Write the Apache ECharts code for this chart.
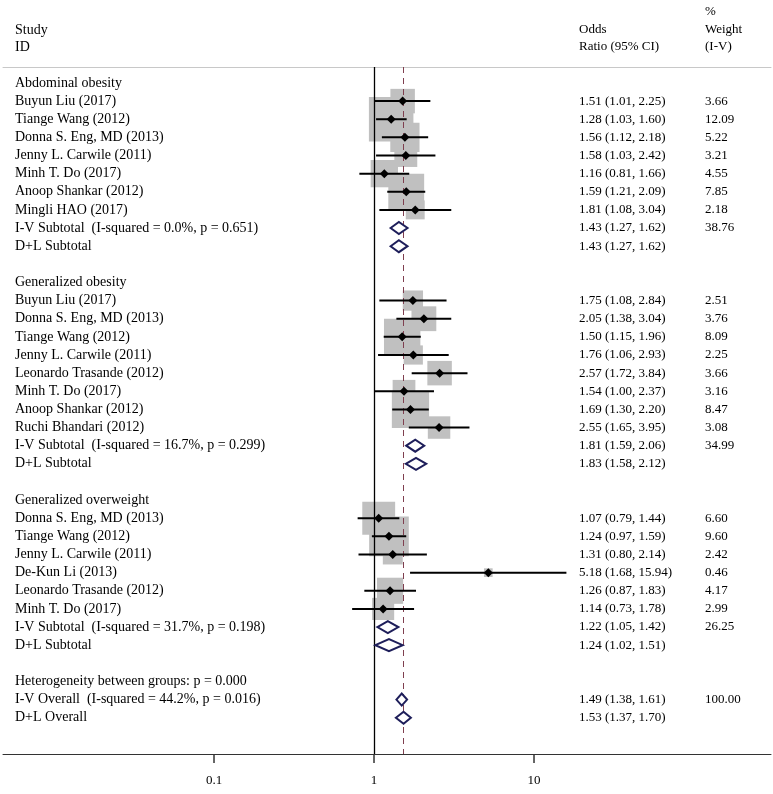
<!DOCTYPE html>
<html><head><meta charset="utf-8">
<script src="https://cdn.jsdelivr.net/npm/echarts@6/dist/echarts.min.js"></script>
<style>html,body{margin:0;padding:0;background:#fff}#c{width:773px;height:794px}</style>
</head><body><div id="c"></div>
<script>
// ---------- DATA ----------
const groupNames = ["Abdominal obesity", "Generalized obesity", "Generalized overweight"];
const studyGroup = [0,0,0,0,0,0,0, 1,1,1,1,1,1,1,1, 2,2,2,2,2,2];
const studyNames = [
  "Buyun Liu (2017)", "Tiange Wang (2012)", "Donna S. Eng, MD (2013)", "Jenny L. Carwile (2011)",
  "Minh T. Do (2017)", "Anoop Shankar (2012)", "Mingli HAO (2017)",
  "Buyun Liu (2017)", "Donna S. Eng, MD (2013)", "Tiange Wang (2012)", "Jenny L. Carwile (2011)",
  "Leonardo Trasande (2012)", "Minh T. Do (2017)", "Anoop Shankar (2012)", "Ruchi Bhandari (2012)",
  "Donna S. Eng, MD (2013)", "Tiange Wang (2012)", "Jenny L. Carwile (2011)", "De-Kun Li (2013)",
  "Leonardo Trasande (2012)", "Minh T. Do (2017)"
];
const studyOR = [1.51,1.28,1.56,1.58,1.16,1.59,1.81, 1.75,2.05,1.50,1.76,2.57,1.54,1.69,2.55, 1.07,1.24,1.31,5.18,1.26,1.14];
const studyLo = [1.01,1.03,1.12,1.03,0.81,1.21,1.08, 1.08,1.38,1.15,1.06,1.72,1.00,1.30,1.65, 0.79,0.97,0.80,1.68,0.87,0.73];
const studyHi = [2.25,1.60,2.18,2.42,1.66,2.09,3.04, 2.84,3.04,1.96,2.93,3.84,2.37,2.20,3.95, 1.44,1.59,2.14,15.94,1.83,1.78];
const studyWeight = [3.66,12.09,5.22,3.21,4.55,7.85,2.18, 2.51,3.76,8.09,2.25,3.66,3.16,8.47,3.08, 6.60,9.60,2.42,0.46,4.17,2.99];

const ivSubLabels = [
  "I-V Subtotal  (I-squared = 0.0%, p = 0.651)",
  "I-V Subtotal  (I-squared = 16.7%, p = 0.299)",
  "I-V Subtotal  (I-squared = 31.7%, p = 0.198)"
];
const ivSubOR = [1.43, 1.81, 1.22];
const ivSubLo = [1.27, 1.59, 1.05];
const ivSubHi = [1.62, 2.06, 1.42];
const ivSubWeight = [38.76, 34.99, 26.25];
const dlSubLabel = "D+L Subtotal";
const dlSubOR = [1.43, 1.83, 1.24];
const dlSubLo = [1.27, 1.58, 1.02];
const dlSubHi = [1.62, 2.12, 1.51];

const hetLabel = "Heterogeneity between groups: p = 0.000";
const overallLabels = ["I-V Overall  (I-squared = 44.2%, p = 0.016)", "D+L Overall"];
const overallOR = [1.49, 1.53];
const overallLo = [1.38, 1.37];
const overallHi = [1.61, 1.70];
const overallWeight = [100.00, null];

const nullValue = 1;
const tickValues = [0.1, 1, 10];
const tickLabels = ["0.1", "1", "10"];

// ---------- LAYOUT / STYLE ----------
const FONT_L = '14px "Liberation Serif", "Times New Roman", serif';
const FONT = '13px "Liberation Serif", "Times New Roman", serif';
const BOX_K = 12.8;       // px per sqrt(% weight)
const NAVY = '#1e1e5a';
const GRAY = '#c0c0c0';
const X_MIN = 0.0048, X_MAX = 302.8;
const Y_MIN = -0.88, Y_MAX = 37;

// ---------- ROW BUILD ----------
const rows = [];
let r = 0;
groupNames.forEach((g, gi) => {
  rows.push({row: r++, label: g, type: 'head'});
  studyNames.forEach((n, i) => {
    if (studyGroup[i] === gi) rows.push({row: r++, label: n, type: 'study', or: studyOR[i], lo: studyLo[i], hi: studyHi[i], w: studyWeight[i]});
  });
  rows.push({row: r++, label: ivSubLabels[gi], type: 'pool', or: ivSubOR[gi], lo: ivSubLo[gi], hi: ivSubHi[gi], w: ivSubWeight[gi]});
  rows.push({row: r++, label: dlSubLabel, type: 'pool', or: dlSubOR[gi], lo: dlSubLo[gi], hi: dlSubHi[gi], w: null});
  r++;
});
rows.push({row: r++, label: hetLabel, type: 'head'});
overallLabels.forEach((l, i) => rows.push({row: r++, label: l, type: 'pool', or: overallOR[i], lo: overallLo[i], hi: overallHi[i], w: overallWeight[i]}));
const axisRow = Y_MAX;

const studies = rows.filter(d => d.type === 'study');
const pools = rows.filter(d => d.type === 'pool');
const fmt = v => v.toFixed(2);
const orText = rows.map(d => d.or != null ? fmt(d.or) + ' (' + fmt(d.lo) + ', ' + fmt(d.hi) + ')' : '');
const wText = rows.map(d => d.w != null ? fmt(d.w) : '');

const chart = echarts.init(document.getElementById('c'), null, {renderer: 'canvas'});

function textSeries(getText, xPx, name, font) {
  return {
    type: 'custom', name, z: 5, silent: true,
    data: rows.map(d => [nullValue, d.row]),
    renderItem: (params, api) => {
      const p = api.coord([api.value(0), api.value(1)]);
      const t = getText(params.dataIndex);
      return {type: 'text', x: xPx, y: p[1], style: {text: t, font: font, fill: '#000', verticalAlign: 'middle', align: 'left'}};
    }
  };
}

const option = {
  animation: false,
  backgroundColor: '#fff',
  grid: {left: 3, right: 2, top: 67, bottom: 40, containLabel: false},
  xAxis: [
    {type: 'log', logBase: 10, min: X_MIN, max: X_MAX, position: 'bottom',
      axisLine: {show: true, onZero: false, lineStyle: {color: '#333', width: 1}},
      axisTick: {show: false}, axisLabel: {show: false}, splitLine: {show: false}},
    {type: 'log', logBase: 10, min: X_MIN, max: X_MAX, position: 'top',
      axisLine: {show: true, onZero: false, lineStyle: {color: '#c8c8c8', width: 1}},
      axisTick: {show: false}, axisLabel: {show: false}, splitLine: {show: false}}
  ],
  yAxis: {type: 'value', inverse: true, min: Y_MIN, max: Y_MAX, show: false},
  graphic: [
    {type: 'text', x: 15, y: 30, style: {text: 'Study', font: FONT_L, fill: '#000', verticalAlign: 'middle'}},
    {type: 'text', x: 15, y: 47, style: {text: 'ID', font: FONT_L, fill: '#000', verticalAlign: 'middle'}},
    {type: 'text', x: 579, y: 30, style: {text: 'Odds', font: FONT, fill: '#000', verticalAlign: 'middle'}},
    {type: 'text', x: 579, y: 47, style: {text: 'Ratio (95% CI)', font: FONT, fill: '#000', verticalAlign: 'middle'}},
    {type: 'text', x: 705, y: 12, style: {text: '%', font: FONT, fill: '#000', verticalAlign: 'middle'}},
    {type: 'text', x: 705, y: 30, style: {text: 'Weight', font: FONT, fill: '#000', verticalAlign: 'middle'}},
    {type: 'text', x: 705, y: 47, style: {text: '(I-V)', font: FONT, fill: '#000', verticalAlign: 'middle'}}
  ],
  series: [
    { // weight boxes + reference lines
      type: 'custom', name: 'boxes', z: 2, silent: true,
      data: studies.map(d => [d.or, d.row, d.w]),
      renderItem: (params, api) => {
        const p = api.coord([api.value(0), api.value(1)]);
        const s = BOX_K * Math.sqrt(api.value(2));
        return {type: 'rect', shape: {x: p[0] - s / 2, y: p[1] - s / 2, width: s, height: s}, style: {fill: GRAY}};
      },
      markLine: {
        silent: true, symbol: 'none', label: {show: false}, z: 3,
        data: [
          {xAxis: nullValue, lineStyle: {color: '#000', width: 1.3, type: 'solid'}},
          {xAxis: overallOR[1], lineStyle: {color: '#7f3f4f', width: 1, type: [6, 5]}}
        ]
      }
    },
    { // CI lines and point estimates
      type: 'custom', name: 'ci', z: 4, silent: true,
      data: studies.map(d => [d.or, d.row, d.lo, d.hi]),
      renderItem: (params, api) => {
        const row = api.value(1);
        const p = api.coord([api.value(0), row]);
        const a = api.coord([api.value(2), row]);
        const b = api.coord([api.value(3), row]);
        const h = 4.5;
        return {type: 'group', children: [
          {type: 'line', shape: {x1: a[0], y1: a[1], x2: b[0], y2: b[1]}, style: {stroke: '#000', lineWidth: 2}},
          {type: 'polygon', shape: {points: [[p[0] - h, p[1]], [p[0], p[1] - h], [p[0] + h, p[1]], [p[0], p[1] + h]]}, style: {fill: '#000'}}
        ]};
      }
    },
    { // pooled diamonds
      type: 'custom', name: 'pooled', z: 4, silent: true,
      data: pools.map(d => [d.or, d.row, d.lo, d.hi]),
      renderItem: (params, api) => {
        const row = api.value(1);
        const p = api.coord([api.value(0), row]);
        const a = api.coord([api.value(2), row]);
        const b = api.coord([api.value(3), row]);
        const h = 6;
        return {type: 'polygon', shape: {points: [[a[0], p[1]], [p[0], p[1] - h], [b[0], p[1]], [p[0], p[1] + h]]},
          style: {fill: '#fff', stroke: NAVY, lineWidth: 2}};
      }
    },
    textSeries(i => rows[i].label, 15, 'labels', FONT_L),
    textSeries(i => orText[i], 579, 'or', FONT),
    textSeries(i => wText[i], 705, 'weights', FONT),
    { // axis ticks and labels
      type: 'custom', name: 'ticks', z: 5, silent: true,
      data: tickValues.map(v => [v, axisRow]),
      renderItem: (params, api) => {
        const p = api.coord([api.value(0), api.value(1)]);
        return {type: 'group', children: [
          {type: 'line', shape: {x1: p[0], y1: p[1], x2: p[0], y2: p[1] + 9}, style: {stroke: '#333', lineWidth: 1.5}},
          {type: 'text', x: p[0], y: p[1] + 27, style: {text: tickLabels[params.dataIndex], font: FONT, fill: '#000', align: 'center', verticalAlign: 'middle'}}
        ]};
      }
    }
  ]
};
chart.setOption(option);
</script>
</body></html>
